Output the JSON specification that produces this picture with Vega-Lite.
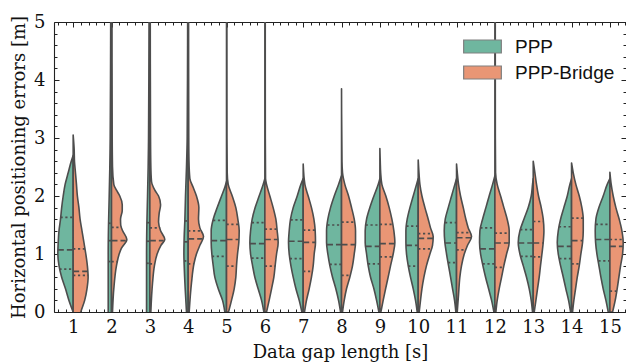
{
  "$schema": "https://vega.github.io/schema/vega-lite/v6.json",
  "width": 572,
  "height": 290,
  "autosize": {"type": "none"},
  "padding": {"left": 54, "top": 22, "right": 0, "bottom": 52},
  "background": "white",
  "config": {
    "view": {"stroke": null},
    "axis": {
      "grid": false,
      "domainColor": "#222222",
      "domainWidth": 1.1,
      "tickColor": "#222222",
      "tickWidth": 1,
      "labelFont": "DejaVu Serif",
      "titleFont": "DejaVu Serif",
      "labelFontSize": 18,
      "titleFontSize": 18,
      "labelColor": "#111111",
      "titleColor": "#111111",
      "titleFontWeight": "normal",
      "labelFlush": false,
      "labelOverlap": false
    },
    "legend": {
      "orient": "none",
      "legendX": 419,
      "legendY": 15,
      "padding": 0,
      "title": null,
      "symbolType": "M-2.9,-1H2.9V1H-2.9Z",
      "symbolSize": 169,
      "symbolStrokeColor": "#808080",
      "symbolStrokeWidth": 1.2,
      "symbolOpacity": 1,
      "symbolOffset": 0,
      "labelFont": "Liberation Sans",
      "labelFontSize": 19,
      "labelColor": "#111111",
      "labelOffset": 23,
      "rowPadding": 6
    }
  },
  "datasets": {
    "outline": [
      {"g":1,"s":"PPP","v":[0,0.2,0.4,0.6,0.8,1.0,1.2,1.4,1.6,1.8,2.0,2.2,2.4,2.6,2.7],"w":[0,0.11,0.2,0.3,0.37,0.4,0.39,0.37,0.33,0.3,0.26,0.21,0.13,0.05,0]},
      {"g":1,"s":"PPP-Bridge","v":[-0.1,0,0.2,0.4,0.6,0.8,1.0,1.2,1.4,1.6,1.8,2.0,2.2,2.4,2.6,2.8,3.05],"w":[0.16,0.2,0.3,0.36,0.39,0.37,0.33,0.28,0.23,0.18,0.15,0.11,0.086,0.06,0.034,0.026,0]},
      {"g":2,"s":"PPP","v":[-0.1,0,0.5,1.0,1.5,2.0,2.5,3.0,4.0,5.3],"w":[0.086,0.086,0.086,0.086,0.078,0.06,0.044,0.034,0.026,0.02]},
      {"g":2,"s":"PPP-Bridge","v":[0,0.4,0.8,1.0,1.1,1.25,1.4,1.5,1.6,1.75,1.85,2.0,2.1,2.2,2.5,3.0,5.3],"w":[0.026,0.06,0.13,0.2,0.26,0.4,0.29,0.24,0.235,0.28,0.28,0.216,0.13,0.06,0.026,0.018,0.01]},
      {"g":3,"s":"PPP","v":[-0.1,0,0.5,1.0,1.5,2.0,2.5,3.0,4.0,5.3],"w":[0.086,0.086,0.086,0.086,0.078,0.06,0.044,0.034,0.026,0.02]},
      {"g":3,"s":"PPP-Bridge","v":[0,0.5,0.8,1.0,1.15,1.25,1.4,1.55,1.7,1.85,2.0,2.1,2.25,2.5,3.0,5.3],"w":[0.026,0.07,0.12,0.19,0.29,0.39,0.28,0.227,0.243,0.28,0.227,0.13,0.044,0.026,0.018,0.01]},
      {"g":4,"s":"PPP","v":[0,0.4,0.8,1.0,1.3,1.6,2.0,2.5,3.0,4.0,5.3],"w":[0.044,0.078,0.104,0.112,0.104,0.086,0.07,0.044,0.026,0.018,0.013]},
      {"g":4,"s":"PPP-Bridge","v":[0,0.5,0.85,1.0,1.15,1.3,1.45,1.6,1.8,2.0,2.15,2.3,2.6,3.0,5.3],"w":[0.026,0.086,0.156,0.216,0.305,0.4,0.305,0.269,0.279,0.216,0.13,0.044,0.021,0.015,0.01]},
      {"g":5,"s":"PPP","v":[0,0.2,0.4,0.6,0.8,1.0,1.2,1.4,1.6,1.8,2.0,2.15,2.25],"w":[0.044,0.104,0.216,0.305,0.347,0.383,0.4,0.4,0.347,0.243,0.13,0.044,0]},
      {"g":5,"s":"PPP-Bridge","v":[0,0.2,0.4,0.6,0.8,1.0,1.2,1.4,1.6,1.8,2.0,2.2,2.4,3.0,5.3],"w":[0.052,0.13,0.2,0.243,0.261,0.287,0.321,0.331,0.295,0.243,0.149,0.044,0.018,0.012,0.01]},
      {"g":6,"s":"PPP","v":[0,0.2,0.4,0.6,0.8,1.0,1.2,1.4,1.6,1.8,2.0,2.2,2.3],"w":[0.026,0.086,0.175,0.261,0.321,0.373,0.391,0.373,0.331,0.253,0.149,0.044,0]},
      {"g":6,"s":"PPP-Bridge","v":[0,0.2,0.4,0.6,0.8,1.0,1.2,1.4,1.6,1.8,2.0,2.2,2.3,3.0,5.3],"w":[0.044,0.112,0.175,0.235,0.269,0.305,0.347,0.321,0.287,0.216,0.13,0.044,0.018,0.012,0.01]},
      {"g":7,"s":"PPP","v":[0,0.2,0.4,0.6,0.8,1.0,1.2,1.4,1.6,1.8,2.0,2.2,2.3],"w":[0.034,0.104,0.19,0.261,0.321,0.365,0.383,0.365,0.331,0.261,0.156,0.06,0]},
      {"g":7,"s":"PPP-Bridge","v":[0,0.2,0.4,0.6,0.8,1.0,1.2,1.4,1.6,1.8,2.0,2.2,2.55],"w":[0.034,0.086,0.156,0.216,0.261,0.287,0.321,0.313,0.279,0.216,0.13,0.044,0]},
      {"g":8,"s":"PPP","v":[0,0.2,0.4,0.6,0.8,1.0,1.2,1.4,1.6,1.8,2.0,2.2,2.35],"w":[0.026,0.078,0.149,0.235,0.305,0.357,0.391,0.391,0.357,0.287,0.19,0.078,0]},
      {"g":8,"s":"PPP-Bridge","v":[0,0.2,0.4,0.6,0.8,1.0,1.2,1.4,1.6,1.8,2.0,2.2,2.4,2.6,3.85],"w":[0.026,0.07,0.13,0.216,0.287,0.331,0.365,0.365,0.331,0.261,0.183,0.086,0.026,0.012,0]},
      {"g":9,"s":"PPP","v":[0,0.2,0.4,0.6,0.8,1.0,1.2,1.4,1.6,1.8,2.0,2.2,2.3],"w":[0.026,0.086,0.156,0.243,0.305,0.347,0.383,0.383,0.347,0.261,0.156,0.044,0]},
      {"g":9,"s":"PPP-Bridge","v":[0,0.2,0.4,0.6,0.8,1.0,1.2,1.4,1.6,1.8,2.0,2.2,2.4,2.6,2.82],"w":[0.026,0.086,0.149,0.216,0.279,0.347,0.391,0.365,0.313,0.243,0.156,0.052,0.021,0.01,0]},
      {"g":10,"s":"PPP","v":[0,0.2,0.4,0.6,0.8,1.0,1.2,1.4,1.6,1.8,2.0,2.2,2.3],"w":[0.026,0.07,0.13,0.201,0.261,0.305,0.321,0.321,0.287,0.216,0.13,0.044,0]},
      {"g":10,"s":"PPP-Bridge","v":[0,0.2,0.4,0.6,0.8,1.0,1.15,1.3,1.45,1.6,1.8,2.0,2.2,2.4,2.62],"w":[0.026,0.06,0.097,0.149,0.216,0.305,0.373,0.391,0.321,0.261,0.175,0.097,0.044,0.02,0]},
      {"g":11,"s":"PPP","v":[0,0.2,0.4,0.6,0.8,1.0,1.2,1.4,1.6,1.8,2.0,2.2,2.3],"w":[0.018,0.052,0.104,0.156,0.209,0.261,0.305,0.321,0.295,0.216,0.13,0.044,0]},
      {"g":11,"s":"PPP-Bridge","v":[0,0.3,0.6,0.8,1.0,1.15,1.3,1.45,1.6,1.8,2.0,2.2,2.4,2.55],"w":[0.018,0.052,0.086,0.13,0.201,0.287,0.391,0.305,0.243,0.175,0.104,0.052,0.02,0]},
      {"g":12,"s":"PPP","v":[0,0.2,0.4,0.6,0.8,1.0,1.2,1.4,1.6,1.8,2.0,2.2,2.35],"w":[0.026,0.086,0.164,0.243,0.313,0.373,0.4,0.391,0.321,0.235,0.149,0.06,0]},
      {"g":12,"s":"PPP-Bridge","v":[0,0.2,0.4,0.6,0.8,1.0,1.2,1.4,1.6,1.8,2.0,2.2,2.4,3.0,5.3],"w":[0.026,0.06,0.112,0.175,0.235,0.305,0.373,0.373,0.321,0.235,0.149,0.06,0.018,0.012,0.01]},
      {"g":13,"s":"PPP","v":[0,0.2,0.4,0.6,0.8,1.0,1.2,1.4,1.6,1.8,2.0,2.2,2.3],"w":[0.018,0.052,0.104,0.175,0.261,0.347,0.391,0.347,0.243,0.13,0.052,0.018,0]},
      {"g":13,"s":"PPP-Bridge","v":[0,0.2,0.4,0.6,0.8,1.0,1.2,1.4,1.6,1.8,2.0,2.2,2.4,2.6],"w":[0.026,0.07,0.112,0.156,0.19,0.227,0.261,0.279,0.261,0.209,0.138,0.086,0.044,0]},
      {"g":14,"s":"PPP","v":[0,0.2,0.4,0.6,0.8,1.0,1.2,1.4,1.6,1.8,2.0,2.2,2.3],"w":[0.026,0.078,0.149,0.216,0.287,0.347,0.373,0.347,0.287,0.201,0.112,0.044,0]},
      {"g":14,"s":"PPP-Bridge","v":[0,0.2,0.4,0.6,0.8,1.0,1.2,1.4,1.6,1.8,2.0,2.2,2.4,2.57],"w":[0.026,0.06,0.104,0.149,0.201,0.243,0.287,0.305,0.305,0.269,0.201,0.112,0.044,0]},
      {"g":15,"s":"PPP","v":[0,0.2,0.4,0.6,0.8,1.0,1.2,1.4,1.6,1.8,2.0,2.2,2.3],"w":[0.044,0.104,0.175,0.235,0.287,0.339,0.373,0.383,0.365,0.287,0.175,0.07,0]},
      {"g":15,"s":"PPP-Bridge","v":[0,0.2,0.4,0.6,0.8,1.0,1.2,1.4,1.6,1.8,2.0,2.2,2.41],"w":[0.07,0.138,0.19,0.235,0.279,0.331,0.347,0.313,0.243,0.156,0.086,0.034,0]}
    ],
    "quart": [
      {"g":1,"s":"PPP","stat":"q","v":1.63,"w":0.33},{"g":1,"s":"PPP","stat":"m","v":1.07,"w":0.4},{"g":1,"s":"PPP","stat":"q","v":0.74,"w":0.36},
      {"g":1,"s":"PPP-Bridge","stat":"q","v":1.09,"w":0.31},{"g":1,"s":"PPP-Bridge","stat":"m","v":0.7,"w":0.38},{"g":1,"s":"PPP-Bridge","stat":"q","v":0.63,"w":0.39},
      {"g":2,"s":"PPP","stat":"q","v":1.53,"w":0.08},{"g":2,"s":"PPP","stat":"m","v":1.23,"w":0.086},{"g":2,"s":"PPP","stat":"q","v":0.87,"w":0.086},
      {"g":2,"s":"PPP-Bridge","stat":"q","v":1.46,"w":0.27},{"g":2,"s":"PPP-Bridge","stat":"m","v":1.23,"w":0.37},{"g":2,"s":"PPP-Bridge","stat":"q","v":0.87,"w":0.14},
      {"g":3,"s":"PPP","stat":"q","v":1.54,"w":0.08},{"g":3,"s":"PPP","stat":"m","v":1.22,"w":0.086},{"g":3,"s":"PPP","stat":"q","v":0.84,"w":0.086},
      {"g":3,"s":"PPP-Bridge","stat":"q","v":1.45,"w":0.27},{"g":3,"s":"PPP-Bridge","stat":"m","v":1.23,"w":0.36},{"g":3,"s":"PPP-Bridge","stat":"q","v":0.83,"w":0.13},
      {"g":4,"s":"PPP","stat":"q","v":1.57,"w":0.088},{"g":4,"s":"PPP","stat":"m","v":1.21,"w":0.108},{"g":4,"s":"PPP","stat":"q","v":0.88,"w":0.106},
      {"g":4,"s":"PPP-Bridge","stat":"q","v":1.4,"w":0.33},{"g":4,"s":"PPP-Bridge","stat":"m","v":1.26,"w":0.37},{"g":4,"s":"PPP-Bridge","stat":"q","v":0.83,"w":0.15},
      {"g":5,"s":"PPP","stat":"q","v":1.58,"w":0.35},{"g":5,"s":"PPP","stat":"m","v":1.23,"w":0.4},{"g":5,"s":"PPP","stat":"q","v":0.96,"w":0.38},
      {"g":5,"s":"PPP-Bridge","stat":"q","v":1.51,"w":0.31},{"g":5,"s":"PPP-Bridge","stat":"m","v":1.25,"w":0.32},{"g":5,"s":"PPP-Bridge","stat":"q","v":0.79,"w":0.26},
      {"g":6,"s":"PPP","stat":"q","v":1.54,"w":0.34},{"g":6,"s":"PPP","stat":"m","v":1.18,"w":0.39},{"g":6,"s":"PPP","stat":"q","v":0.93,"w":0.35},
      {"g":6,"s":"PPP-Bridge","stat":"q","v":1.43,"w":0.32},{"g":6,"s":"PPP-Bridge","stat":"m","v":1.25,"w":0.34},{"g":6,"s":"PPP-Bridge","stat":"q","v":0.79,"w":0.27},
      {"g":7,"s":"PPP","stat":"q","v":1.59,"w":0.33},{"g":7,"s":"PPP","stat":"m","v":1.22,"w":0.38},{"g":7,"s":"PPP","stat":"q","v":0.92,"w":0.35},
      {"g":7,"s":"PPP-Bridge","stat":"q","v":1.41,"w":0.31},{"g":7,"s":"PPP-Bridge","stat":"m","v":1.2,"w":0.32},{"g":7,"s":"PPP-Bridge","stat":"q","v":0.7,"w":0.24},
      {"g":8,"s":"PPP","stat":"q","v":1.5,"w":0.37},{"g":8,"s":"PPP","stat":"m","v":1.16,"w":0.38},{"g":8,"s":"PPP","stat":"q","v":0.82,"w":0.31},
      {"g":8,"s":"PPP-Bridge","stat":"q","v":1.55,"w":0.34},{"g":8,"s":"PPP-Bridge","stat":"m","v":1.16,"w":0.36},{"g":8,"s":"PPP-Bridge","stat":"q","v":0.63,"w":0.23},
      {"g":9,"s":"PPP","stat":"q","v":1.5,"w":0.37},{"g":9,"s":"PPP","stat":"m","v":1.13,"w":0.37},{"g":9,"s":"PPP","stat":"q","v":0.83,"w":0.31},
      {"g":9,"s":"PPP-Bridge","stat":"q","v":1.51,"w":0.33},{"g":9,"s":"PPP-Bridge","stat":"m","v":1.18,"w":0.39},{"g":9,"s":"PPP-Bridge","stat":"q","v":0.95,"w":0.33},
      {"g":10,"s":"PPP","stat":"q","v":1.48,"w":0.31},{"g":10,"s":"PPP","stat":"m","v":1.15,"w":0.32},{"g":10,"s":"PPP","stat":"q","v":0.79,"w":0.26},
      {"g":10,"s":"PPP-Bridge","stat":"q","v":1.35,"w":0.37},{"g":10,"s":"PPP-Bridge","stat":"m","v":1.27,"w":0.39},{"g":10,"s":"PPP-Bridge","stat":"q","v":1.09,"w":0.34},
      {"g":11,"s":"PPP","stat":"q","v":1.54,"w":0.3},{"g":11,"s":"PPP","stat":"m","v":1.19,"w":0.3},{"g":11,"s":"PPP","stat":"q","v":0.85,"w":0.22},
      {"g":11,"s":"PPP-Bridge","stat":"q","v":1.37,"w":0.35},{"g":11,"s":"PPP-Bridge","stat":"m","v":1.28,"w":0.38},{"g":11,"s":"PPP-Bridge","stat":"q","v":1.07,"w":0.23},
      {"g":12,"s":"PPP","stat":"q","v":1.45,"w":0.38},{"g":12,"s":"PPP","stat":"m","v":1.09,"w":0.39},{"g":12,"s":"PPP","stat":"q","v":0.83,"w":0.32},
      {"g":12,"s":"PPP-Bridge","stat":"q","v":1.36,"w":0.37},{"g":12,"s":"PPP-Bridge","stat":"m","v":1.19,"w":0.37},{"g":12,"s":"PPP-Bridge","stat":"q","v":0.77,"w":0.23},
      {"g":13,"s":"PPP","stat":"q","v":1.42,"w":0.34},{"g":13,"s":"PPP","stat":"m","v":1.19,"w":0.39},{"g":13,"s":"PPP","stat":"q","v":0.96,"w":0.33},
      {"g":13,"s":"PPP-Bridge","stat":"q","v":1.56,"w":0.26},{"g":13,"s":"PPP-Bridge","stat":"m","v":1.19,"w":0.26},{"g":13,"s":"PPP-Bridge","stat":"q","v":0.95,"w":0.22},
      {"g":14,"s":"PPP","stat":"q","v":1.47,"w":0.33},{"g":14,"s":"PPP","stat":"m","v":1.13,"w":0.36},{"g":14,"s":"PPP","stat":"q","v":0.92,"w":0.32},
      {"g":14,"s":"PPP-Bridge","stat":"q","v":1.62,"w":0.3},{"g":14,"s":"PPP-Bridge","stat":"m","v":1.23,"w":0.29},{"g":14,"s":"PPP-Bridge","stat":"q","v":0.83,"w":0.21},
      {"g":15,"s":"PPP","stat":"q","v":1.51,"w":0.37},{"g":15,"s":"PPP","stat":"m","v":1.25,"w":0.38},{"g":15,"s":"PPP","stat":"q","v":0.88,"w":0.3},
      {"g":15,"s":"PPP-Bridge","stat":"q","v":1.25,"w":0.34},{"g":15,"s":"PPP-Bridge","stat":"m","v":1.13,"w":0.34},{"g":15,"s":"PPP-Bridge","stat":"q","v":0.36,"w":0.17}
    ]
  },
  "resolve": {"scale": {"x": "independent", "y": "independent"}, "axis": {"x": "independent", "y": "independent"}},
  "layer": [
    {
      "data": {"name": "outline"},
      "transform": [
        {"flatten": ["v", "w"]},
        {"calculate": "datum.s == 'PPP' ? datum.g - datum.w : datum.g", "as": "lo"},
        {"calculate": "datum.s == 'PPP' ? datum.g : datum.g + datum.w", "as": "hi"}
      ],
      "mark": {"type": "area", "orient": "horizontal", "clip": true, "interpolate": "monotone", "stroke": "#4d4d4d", "strokeWidth": 1.6, "strokeJoin": "round", "opacity": 1},
      "encoding": {
        "y": {"field": "v", "type": "quantitative", "scale": {"domain": [0, 5], "nice": false, "zero": false},
              "axis": {"orient": "left", "values": [0, 1, 2, 3, 4, 5], "format": "d", "ticks": false, "labelPadding": 9, "labelBaseline": "middle", "domain": true, "title": "Horizontal positioning errors [m]", "titleX": -35, "titleY": 145, "titleAngle": -90, "titleAlign": "center", "titleBaseline": "middle"}},
        "x": {"field": "lo", "type": "quantitative", "scale": {"domain": [0.5, 15.42], "nice": false, "zero": false},
              "axis": {"orient": "bottom", "values": [1,2,3,4,5,6,7,8,9,10,11,12,13,14,15], "format": "d", "ticks": false, "labelPadding": 20, "labelBaseline": "alphabetic", "domain": true, "title": "Data gap length [s]", "titleX": 286, "titleY": 45, "titleAlign": "center", "titleBaseline": "alphabetic"}},
        "x2": {"field": "hi"},
        "fill": {"field": "s", "type": "nominal", "scale": {"domain": ["PPP", "PPP-Bridge"], "range": ["#6fb69f", "#e99675"]}, "legend": {}},
        "detail": {"field": "g", "type": "nominal"}
      }
    },
    {
      "data": {"name": "quart"},
      "transform": [
        {"calculate": "datum.s == 'PPP' ? datum.g - datum.w : datum.g", "as": "lo"},
        {"calculate": "datum.s == 'PPP' ? datum.g : datum.g + datum.w", "as": "hi"}
      ],
      "mark": {"type": "rule", "color": "#4d4d4d", "strokeWidth": 1.7},
      "encoding": {
        "y": {"field": "v", "type": "quantitative", "scale": {"domain": [0, 5], "nice": false, "zero": false},
              "axis": {"orient": "left", "values": [0, 1, 2, 3, 4, 5], "tickSize": -5, "labels": false, "domain": false, "title": null}},
        "x": {"field": "lo", "type": "quantitative", "scale": {"domain": [0.5, 15.42], "nice": false, "zero": false},
              "axis": {"orient": "bottom", "values": [1,2,3,4,5,6,7,8,9,10,11,12,13,14,15], "tickSize": -5, "labels": false, "domain": false, "title": null}},
        "x2": {"field": "hi"},
        "strokeDash": {"field": "stat", "type": "nominal", "scale": {"domain": ["m", "q"], "range": [[6, 3], [2.2, 2.6]]}, "legend": null}
      }
    },
    {
      "data": {"name": "quart"},
      "mark": {"type": "point", "opacity": 0},
      "encoding": {
        "y": {"field": "v", "type": "quantitative", "scale": {"domain": [0, 5], "nice": false, "zero": false},
              "axis": {"orient": "left", "values": [0.2,0.4,0.6,0.8,1.2,1.4,1.6,1.8,2.2,2.4,2.6,2.8,3.2,3.4,3.6,3.8,4.2,4.4,4.6,4.8], "tickSize": -3, "labels": false, "domain": false, "title": null}},
        "x": {"field": "g", "type": "quantitative", "scale": {"domain": [0.5, 15.42], "nice": false, "zero": false},
              "axis": {"orient": "bottom", "values": [0.6,0.8,1.2,1.4,1.6,1.8,2.2,2.4,2.6,2.8,3.2,3.4,3.6,3.8,4.2,4.4,4.6,4.8,5.2,5.4,5.6,5.8,6.2,6.4,6.6,6.8,7.2,7.4,7.6,7.8,8.2,8.4,8.6,8.8,9.2,9.4,9.6,9.8,10.2,10.4,10.6,10.8,11.2,11.4,11.6,11.8,12.2,12.4,12.6,12.8,13.2,13.4,13.6,13.8,14.2,14.4,14.6,14.8,15.2,15.4], "tickSize": -3, "labels": false, "domain": false, "title": null}}
      }
    },
    {
      "data": {"name": "quart"},
      "mark": {"type": "point", "opacity": 0},
      "encoding": {
        "y": {"field": "v", "type": "quantitative", "scale": {"domain": [0, 5], "nice": false, "zero": false},
              "axis": {"orient": "right", "values": [0, 1, 2, 3, 4, 5], "tickSize": -5, "labels": false, "domain": false, "title": null}},
        "x": {"field": "g", "type": "quantitative", "scale": {"domain": [0.5, 15.42], "nice": false, "zero": false},
              "axis": {"orient": "top", "values": [1,2,3,4,5,6,7,8,9,10,11,12,13,14,15], "tickSize": -5, "labels": false, "domain": true, "title": null}}
      }
    },
    {
      "data": {"name": "quart"},
      "mark": {"type": "point", "opacity": 0},
      "encoding": {
        "y": {"field": "v", "type": "quantitative", "scale": {"domain": [0, 5], "nice": false, "zero": false},
              "axis": {"orient": "right", "values": [0.2,0.4,0.6,0.8,1.2,1.4,1.6,1.8,2.2,2.4,2.6,2.8,3.2,3.4,3.6,3.8,4.2,4.4,4.6,4.8], "tickSize": -3, "labels": false, "domain": false, "title": null}},
        "x": {"field": "g", "type": "quantitative", "scale": {"domain": [0.5, 15.42], "nice": false, "zero": false},
              "axis": {"orient": "top", "values": [0.6,0.8,1.2,1.4,1.6,1.8,2.2,2.4,2.6,2.8,3.2,3.4,3.6,3.8,4.2,4.4,4.6,4.8,5.2,5.4,5.6,5.8,6.2,6.4,6.6,6.8,7.2,7.4,7.6,7.8,8.2,8.4,8.6,8.8,9.2,9.4,9.6,9.8,10.2,10.4,10.6,10.8,11.2,11.4,11.6,11.8,12.2,12.4,12.6,12.8,13.2,13.4,13.6,13.8,14.2,14.4,14.6,14.8,15.2,15.4], "tickSize": -3, "labels": false, "domain": false, "title": null}}
      }
    }
  ]
}
